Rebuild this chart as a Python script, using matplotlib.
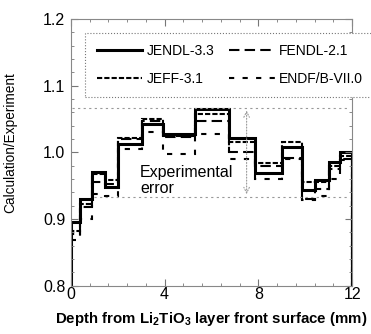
import numpy as np
import matplotlib.pyplot as plt
from matplotlib.ticker import MultipleLocator

plt.rcParams['font.family'] = ['Liberation Sans', 'DejaVu Sans']
plt.rcParams['mathtext.default'] = 'regular'

# bin edges of the detector layers (mm)
edges = [0, 0.4, 0.9, 1.45, 2.0, 3.05, 3.95, 5.3, 6.75, 7.85, 9.0, 9.85, 10.4, 11.0, 11.5, 12.0]

# C/E ratios per layer
jendl = [0.895, 0.930, 0.970, 0.948, 1.012, 1.043, 1.027, 1.065, 1.022, 0.969, 1.008, 0.943, 0.958, 0.985, 1.001]
fendl = [0.878, 0.918, 0.955, 0.952, 1.020, 1.047, 1.023, 1.047, 1.001, 0.980, 0.991, 0.930, 0.945, 0.975, 0.990]
jeff = [0.882, 0.922, 0.967, 0.958, 1.022, 1.050, 1.025, 1.058, 1.016, 0.984, 1.016, 0.955, 0.955, 0.980, 0.995]
endf = [0.868, 0.900, 0.938, 0.934, 1.005, 1.030, 0.998, 1.028, 0.990, 0.960, 0.990, 0.928, 0.935, 0.960, 0.988]

err_hi = 1.067
err_lo = 0.933

fig = plt.figure(figsize=(3.71, 3.34), dpi=100)
ax = fig.add_axes([0.191, 0.145, 0.758, 0.798])

ax.plot([0.05, 11.8], [err_hi, err_hi], color='#999999', lw=0.8, ls=(0, (2, 3)))
ax.plot([1.0, 11.8], [err_lo, err_lo], color='#999999', lw=0.8, ls=(0, (2, 3)))
ax.annotate('', xy=(7.5, err_hi), xytext=(7.5, err_lo),
            arrowprops=dict(arrowstyle='<->', color='#999999', lw=0.8, ls=':'))
ax.text(2.95, 0.958, 'Experimental\nerror', fontsize=11.5, va='center', ha='left', linespacing=1.05)

h1 = ax.stairs(jendl, edges, color='black', lw=2.2, label='JENDL-3.3')
h3 = ax.stairs(fendl, edges, color='black', lw=1.5, ls=(0, (5, 2.5)), label='FENDL-2.1')
h2 = ax.stairs(jeff, edges, color='black', lw=1.5, ls=(0, (2.5, 1)), label='JEFF-3.1')
h4 = ax.stairs(endf, edges, color='black', lw=1.5, ls=(0, (2.5, 4)), label='ENDF/B-VII.0')

ax.set_xlim(0, 12)
ax.set_ylim(0.8, 1.2)
ax.set_xticks([0, 4, 8, 12])
ax.set_yticks([0.8, 0.9, 1.0, 1.1, 1.2])
ax.set_yticklabels(['0.8', '0.9', '1.0', '1.1', '1.2'])
ax.xaxis.set_minor_locator(MultipleLocator(0.8))
ax.yaxis.set_minor_locator(MultipleLocator(0.02))
ax.tick_params(which='both', direction='in', top=True, right=True, color='#777777', labelsize=11.5)
ax.tick_params(which='major', length=5, width=0.8)
ax.tick_params(which='minor', length=2.5, width=0.6)
ax.tick_params(axis='x', pad=1)
ax.tick_params(axis='y', pad=4)
for s in ax.spines.values():
    s.set_color('#888888')
    s.set_linewidth(0.8)

ax.set_ylabel('Calculation/Experiment', fontsize=9.8)
ax.yaxis.set_label_coords(-0.19, 0.535)
ax.set_xlabel(r'Depth from Li$_2$TiO$_3$ layer front surface (mm)', fontsize=10.8, fontweight='bold', labelpad=6)

leg = ax.legend(handles=[h1, h2, h3, h4], ncol=2, loc='upper left', bbox_to_anchor=(0.052, 0.9475),
                fontsize=10, handlelength=3.3, columnspacing=1.05, handletextpad=0.3,
                borderpad=0.8, labelspacing=1.0, fancybox=False, framealpha=1,
                borderaxespad=0)
leg.get_frame().set_edgecolor('#777777')
leg.get_frame().set_linestyle(':')
leg.get_frame().set_linewidth(0.8)
leg.set_clip_on(False)

fig.savefig('out.png', dpi=100)
